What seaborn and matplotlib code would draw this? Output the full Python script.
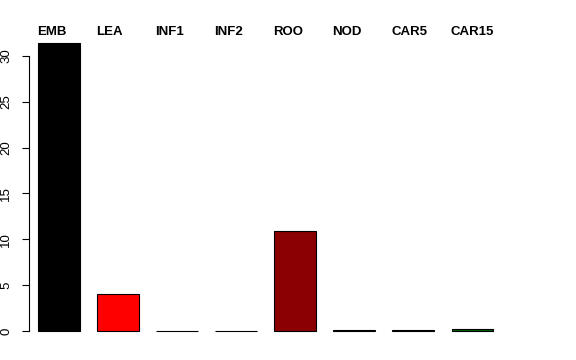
import matplotlib
matplotlib.use("Agg")
import matplotlib.pyplot as plt
import matplotlib.transforms as mtransforms
import seaborn as sns
import pandas as pd

categories = ["EMB", "LEA", "INF1", "INF2", "ROO", "NOD", "CAR5", "CAR15"]
values = [31.4, 4.0, 0.05, 0.05, 10.85, 0.08, 0.12, 0.25]
colors = ["#000000", "#ff0000", "#556b2f", "#483d8b", "#8b0000", "#6a4a6a", "#000080", "#006400"]
yticks = [0, 5, 10, 15, 20, 25, 30]

sns.set_theme(style="white")
plt.rcParams['font.family'] = ['Liberation Sans', 'DejaVu Sans']

df = pd.DataFrame({"cat": categories, "val": values})

fig = plt.figure(figsize=(5.76, 3.6), dpi=100)
ax = fig.add_axes([29/576, 1 - 335/360, 491/576, 295/360])

sns.barplot(data=df, x="cat", y="val", hue="cat", palette=colors, order=categories,
            hue_order=categories, width=0.7, edgecolor="black", linewidth=0.8,
            legend=False, ax=ax, saturation=1)

ax.set_xlim(-0.508, 7.81)
ax.set_ylim(-0.44, 31.73)
ax.set_xlabel("")
ax.set_ylabel("")
ax.set_xticks([])
ax.set_yticks(yticks)
ax.set_yticklabels([str(t) for t in yticks], rotation=90, va="center", fontsize=9.5)
ax.tick_params(axis="y", direction="out", length=5, width=0.8, pad=7, left=True, colors="black")
for s in ["top", "right", "bottom"]:
    ax.spines[s].set_visible(False)
ax.spines["left"].set_bounds(0, 30)
ax.spines["left"].set_color("black")
ax.spines["left"].set_linewidth(0.8)

trans = mtransforms.blended_transform_factory(ax.transData, fig.transFigure)
for i, c in enumerate(categories):
    ax.text(i - 0.37, 1 - 35/360, c, transform=trans, ha="left", va="baseline",
            fontsize=9.5, fontweight="bold", color="black", clip_on=False)

fig.savefig("out.png", dpi=100)
